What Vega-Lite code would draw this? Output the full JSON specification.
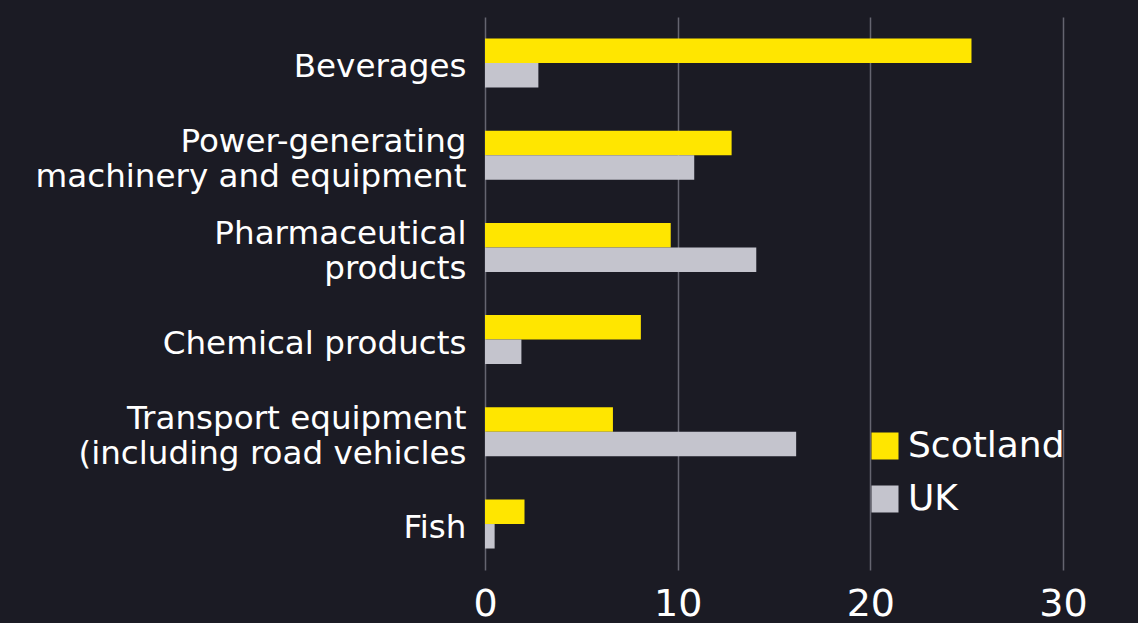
{
  "$schema": "https://vega.github.io/schema/vega-lite/v6.json",
  "width": 578,
  "height": 553,
  "autosize": {"type": "none"},
  "padding": {"left": 485, "top": 17, "right": 75, "bottom": 53},
  "background": "#1b1b24",
  "config": {
    "view": {"stroke": null},
    "font": "DejaVu Sans"
  },
  "data": {
    "values": [
      {"category": "Beverages", "series": "Scotland", "value": 25.25},
      {"category": "Beverages", "series": "UK", "value": 2.77},
      {"category": "Power-generating|machinery and equipment", "series": "Scotland", "value": 12.8},
      {"category": "Power-generating|machinery and equipment", "series": "UK", "value": 10.86},
      {"category": "Pharmaceutical|products", "series": "Scotland", "value": 9.64},
      {"category": "Pharmaceutical|products", "series": "UK", "value": 14.08},
      {"category": "Chemical products", "series": "Scotland", "value": 8.09},
      {"category": "Chemical products", "series": "UK", "value": 1.89},
      {"category": "Transport equipment|(including road vehicles", "series": "Scotland", "value": 6.64},
      {"category": "Transport equipment|(including road vehicles", "series": "UK", "value": 16.15},
      {"category": "Fish", "series": "Scotland", "value": 2.05},
      {"category": "Fish", "series": "UK", "value": 0.5}
    ]
  },
  "mark": {"type": "bar", "cornerRadius": 0},
  "encoding": {
    "y": {
      "field": "category",
      "type": "nominal",
      "sort": null,
      "scale": {"paddingInner": 0.469, "paddingOuter": 0.233},
      "axis": {
        "title": null,
        "domain": false,
        "ticks": false,
        "grid": false,
        "labelPadding": 19,
        "labelFontSize": 32.6,
        "labelColor": "#ffffff",
        "labelLineHeight": 35,
        "labelLimit": 600,
        "labelOffset": {"condition": {"test": "indexof(datum.value, '|') >= 0", "value": -13}, "value": 4},
        "labelExpr": "split(datum.value, '|')"
      }
    },
    "yOffset": {
      "field": "series",
      "type": "nominal",
      "sort": ["Scotland", "UK"],
      "scale": {"paddingInner": 0, "paddingOuter": 0}
    },
    "x": {
      "field": "value",
      "type": "quantitative",
      "scale": {"domain": [0, 30], "nice": false},
      "axis": {
        "title": null,
        "values": [0, 10, 20, 30],
        "domain": false,
        "ticks": false,
        "grid": true,
        "gridColor": "#656570",
        "gridWidth": 1.5,
        "labelFontSize": 38,
        "labelColor": "#ffffff",
        "labelPadding": 15,
        "labelFlush": false
      }
    },
    "color": {
      "field": "series",
      "type": "nominal",
      "sort": ["Scotland", "UK"],
      "scale": {"domain": ["Scotland", "UK"], "range": ["#ffe600", "#c4c4cd"]},
      "legend": {
        "title": null,
        "orient": "none",
        "legendX": 382,
        "legendY": 411,
        "padding": 0,
        "symbolType": "square",
        "symbolSize": 729,
        "symbolStrokeWidth": 0,
        "symbolOpacity": 1,
        "labelFontSize": 36,
        "labelLimit": 400,
        "labelColor": "#ffffff",
        "labelOffset": 5,
        "rowPadding": 17
      }
    }
  }
}
